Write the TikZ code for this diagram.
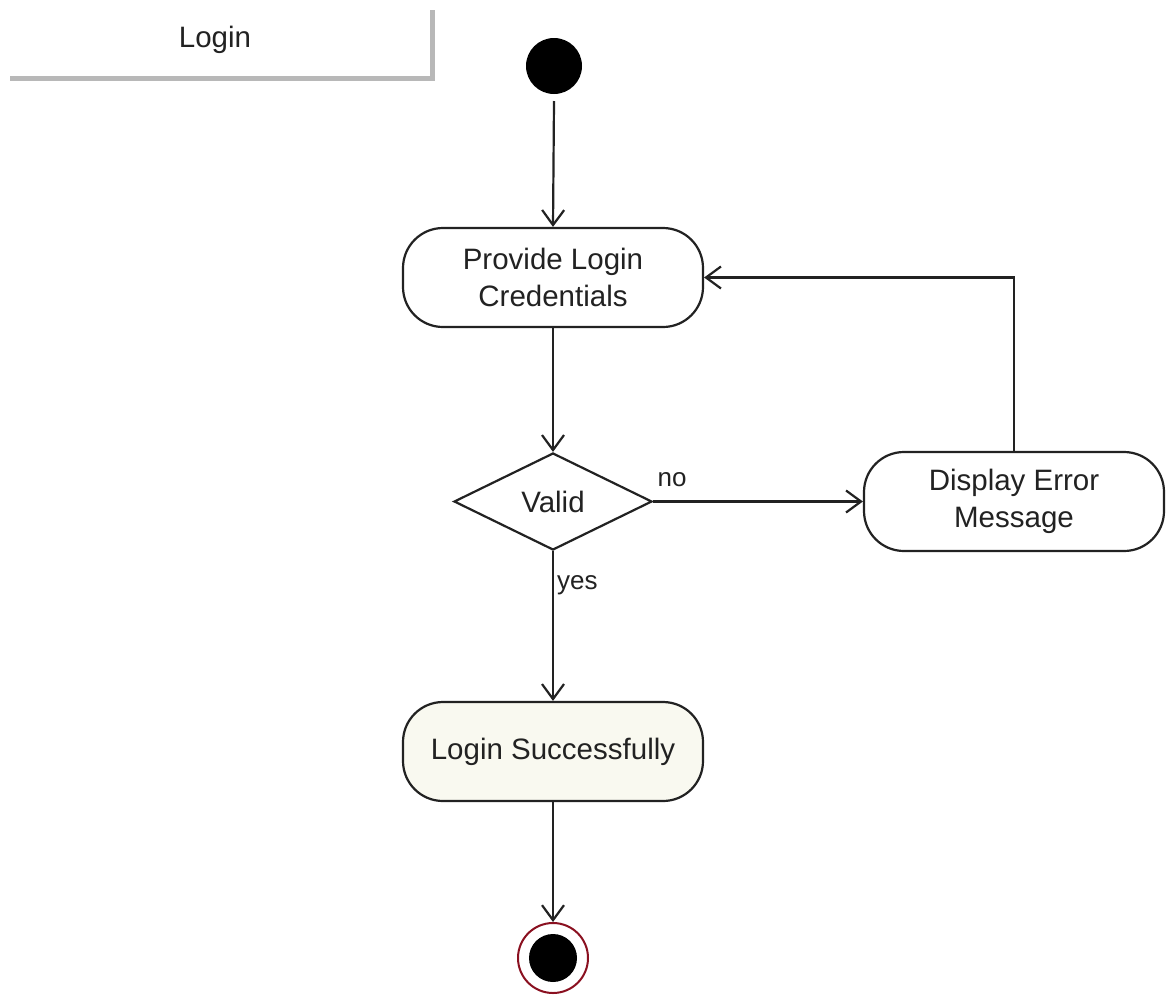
\documentclass[tikz,border=0pt]{standalone}
\usepackage{fontspec}
\setmainfont{Liberation Sans}
\usetikzlibrary{arrows.meta,shapes.geometric}
\definecolor{ink}{HTML}{222222}
\definecolor{shadowgray}{HTML}{B8B8B8}
\definecolor{donefill}{HTML}{F9F9F0}
\definecolor{endring}{HTML}{8A1020}
\begin{document}
\begin{tikzpicture}[x=1pt,y=-1pt,
  every node/.style={font=\fontsize{29.5}{36.5}\selectfont, text=ink},
  action/.style={draw=ink, line width=2.2pt, rounded corners=40pt, minimum width=300pt,
    minimum height=99pt, align=center, fill=white},
  decision/.style={draw=ink, line width=2.2pt, diamond, aspect=2.04, minimum width=198pt,
    minimum height=97pt, inner sep=0pt, fill=white},
  flow/.style={draw=ink, line width=2.2pt, -{Straight Barb[length=15pt,width=22pt,line width=2.2pt]}},
  lbl/.style={font=\fontsize{26}{30}\selectfont}]
\useasboundingbox (0,0) rectangle (1167,1002);
\fill[white] (0,0) rectangle (1167,1002);

% swimlane heading with its shadow edges
\node (title) at (215,40) {Login};
\draw[shadowgray, line width=5pt] (10,78) -- (432,78) -- (432,10);

% activity nodes
\fill[black] (554,66) circle (28pt);
\coordinate (start) at (554,101);
\node[action] (provide) at (553,277.5) {Provide Login\\Credentials};
\node[decision] (valid) at (553,501.5) {Valid};
\node[action] (error) at (1014,501.5) {Display Error\\Message};
\node[action, fill=donefill] (done) at (553,751.5) {Login Successfully};
\draw[endring, line width=2pt] (553,958) circle (35pt);
\fill[black] (553,958) circle (24pt);
\coordinate (finish) at (553,922);

% transitions
\draw[flow] (start) -- (provide.north);
\draw[flow] (provide.south) -- (valid.north);
\draw[flow] (valid.east) -- (error.west);
\draw[flow] (error.north) -- (error.north |- provide.east) -- (provide.east);
\draw[flow] (valid.south) -- (done.north);
\draw[flow] (done.south) -- (finish);

% guard labels
\node[lbl] (no) at (672,480) {no};
\node[lbl, anchor=west, inner sep=0pt] (yes) at (557,585) {yes};
\end{tikzpicture}
\end{document}
